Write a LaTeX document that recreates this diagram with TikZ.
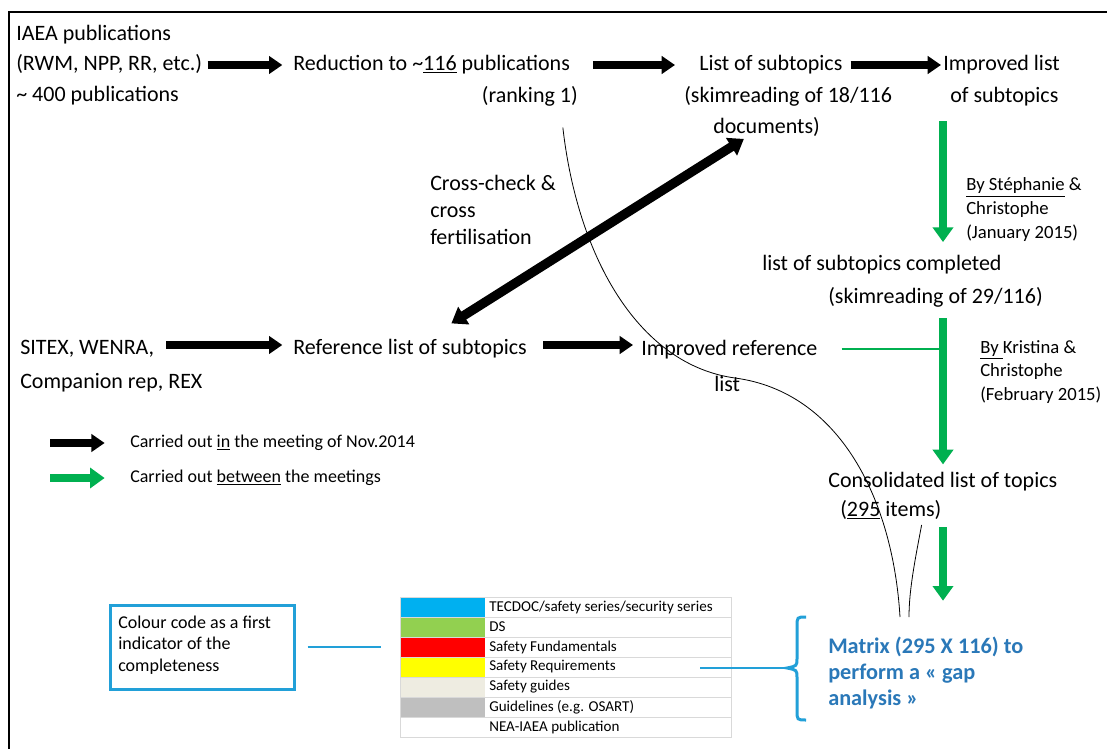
\documentclass[tikz,border=0pt]{standalone}
\usepackage{fontspec}
\setmainfont{Carlito}
\definecolor{mGreen}{HTML}{00B050}
\definecolor{mCyan}{HTML}{22A0D8}
\definecolor{mDarkBlue}{HTML}{2A78B8}
\definecolor{tabBlue}{HTML}{00B0F0}
\definecolor{tabGreen}{HTML}{92D050}
\definecolor{tabRed}{HTML}{FF0000}
\definecolor{tabYellow}{HTML}{FFFF00}
\definecolor{tabLight}{HTML}{EEECE1}
\definecolor{tabGray}{HTML}{BFBFBF}
\definecolor{tabLine}{HTML}{D9D9D9}
\usetikzlibrary{arrows.meta,calc}

\begin{document}
\begin{tikzpicture}[x=0.75pt,y=-0.75pt,
    txt/.style={anchor=west,inner sep=0pt,text height=11pt,text depth=3pt,font=\fontsize{16.5}{20}\selectfont},
    small/.style={anchor=west,inner sep=0pt,align=left,font=\fontsize{14}{17.5}\selectfont},
    blk/.style={line width=6pt,-{Triangle[length=10pt,width=13pt]}},
    dbl/.style={line width=7pt,{Triangle[length=11pt,width=15pt]}-{Triangle[length=11pt,width=15pt]}},
    grn/.style={draw=mGreen,line width=5.5pt,-{Triangle[length=11pt,width=15pt]}},
    link/.style={draw=mCyan,line width=1pt},
    tabtxt/.style={anchor=west,inner sep=0pt,font=\fontsize{11.3}{13}\selectfont}]
  \useasboundingbox (0,0) rectangle (1107,749);
  \draw[line width=1.5pt] (9,749) -- (9,12) -- (1107,12);

  % top row
  \node[txt] (iaea) at (16,35) {IAEA publications};
  \node[txt] (rwm) at (16,65) {(RWM, NPP, RR, etc.)};
  \node[txt] (iaeaNum) at (16,96) {\textasciitilde{} 400 publications};
  \node[txt] (reduc) at (293,65) {Reduction to \textasciitilde\underline{116} publications};
  \node[txt,anchor=east] (rank) at (578,97) {(ranking 1)};
  \node[txt] (subt) at (699,65) {List of subtopics};
  \node[txt] (skim) at (684,97) {(skimreading of 18/116};
  \node[txt] (docs) at (713,128) {documents)};
  \node[txt] (impr) at (943,65) {Improved list};
  \node[txt] (imprSub) at (950,97) {of subtopics};

  \draw[blk,shorten <=4pt,shorten >=8pt] (rwm.east) -- (reduc.west);
  \draw[blk,shorten <=17pt,shorten >=18pt] (reduc.east) -- (subt.west);
  \draw[blk,shorten <=6pt,shorten >=1.5pt] (subt.east) -- (impr.west);

  % green column
  \coordinate (spine) at (943,0);
  \node[small,font=\fontsize{14}{18}\selectfont] (steph) at (966,210) {\underline{By Stéphanie} \&\\Christophe\\(January 2015)};
  \node[txt] (compl) at (762,265) {list of subtopics completed};
  \node[txt] (skimB) at (828,298) {(skimreading of 29/116)};
  \node[small] (krist) at (980,372) {\underline{By }Kristina \&\\Christophe\\(February 2015)};
  \node[txt] (consol) at (828,482) {Consolidated list of topics};
  \node[txt] (items) at (840,511) {(\underline{295} items)};

  \draw[grn,shorten <=11pt,shorten >=10pt] (imprSub.south -| spine) -- (compl.north -| spine);
  \draw[grn,shorten <=8pt,shorten >=6pt] (skimB.south -| spine) -- (consol.north -| spine);

  % middle row
  \node[txt] (sitex) at (20,349) {SITEX, WENRA,};
  \node[txt] (compan) at (20,383) {Companion rep, REX};
  \node[txt] (reflist) at (293,349) {Reference list of subtopics};
  \node[txt] (imprRef) at (641,350) {Improved reference};
  \node[txt] (imprRefB) at (714,386) {list};
  \node[txt,align=left,font=\fontsize{16.5}{20.25}\selectfont,text height=,text depth=] (cross) at (430,210) {Cross-check \&\\cross\\fertilisation};

  \draw[blk,shorten <=9pt,shorten >=8pt] ([yshift=3pt]sitex.east) -- ([yshift=3pt]sitex.east -| reflist.west);
  \draw[blk,shorten <=12pt,shorten >=6pt] ([yshift=3pt]reflist.east) -- ([yshift=3pt]reflist.east -| imprRef.west);
  \draw[dbl] ([xshift=31pt,yshift=12pt]reflist.north) -- ([xshift=-17pt,yshift=-1pt]docs.south);
  \draw[mGreen,line width=1.5pt,shorten <=18pt] ([yshift=1pt]imprRef.east) -- ([yshift=1pt]imprRef.east -| spine);

  % legend
  \node[small,font=\fontsize{13.5}{16}\selectfont] (legBlk) at (130,443) {Carried out \underline{in} the meeting of Nov.2014};
  \node[small,font=\fontsize{13.5}{16}\selectfont] (legGrn) at (130,478) {Carried out \underline{between} the meetings};
  \coordinate (legA) at (50,443);
  \coordinate (legB) at (50,478);
  \draw[blk] (legA) -- ([xshift=-19pt]legBlk.west);
  \draw[grn] (legB) -- ([xshift=-19pt]legGrn.west);

  % colour code
  \node[draw=mCyan,line width=2.25pt,inner sep=0pt,minimum width=138pt,minimum height=63pt] (cbox) at (202,647) {};
  \node[small,align=left,font=\fontsize{13.5}{16}\selectfont] (cboxTxt) at (118,645) {Colour code as a first\\indicator of the\\completeness};
  \foreach \col/\lab [count=\i from 0] in {tabBlue/{TECDOC/safety series/security series},tabGreen/DS,tabRed/Safety Fundamentals,tabYellow/Safety Requirements,tabLight/Safety guides,tabGray/Guidelines (e.g. OSART),white/NEA-IAEA publication}{
    \fill[\col] (400,597+20*\i) rectangle (485,617+20*\i);
    \draw[tabLine,line width=0.75pt] (400,597+20*\i) rectangle (731,617+20*\i);
    \node[tabtxt] (row\i) at (489,607+20*\i) {\lab};
  }
  \coordinate (tabW) at (400,652);
  \draw[link,shorten <=9pt,shorten >=14pt] (cbox.east) -- (cbox.east -| tabW);

  % matrix
  \coordinate (braceTip) at (787,668);
  \draw[mCyan,line width=2.25pt] (806,617) .. controls (797,617) .. (797,627) -- (797,658)
    .. controls (797,666) .. (braceTip) .. controls (797,670) .. (797,678) -- (797,710)
    .. controls (797,720) .. (806,720);
  \draw[link] ($(braceTip)+(-87,0)$) -- (braceTip);
  \node[anchor=west,inner sep=0pt,align=left,text=mDarkBlue,font=\fontsize{16.7}{19.5}\selectfont\bfseries] (matrix) at (828,673) {Matrix (295 X 116) to\\perform a « gap\\analysis »};
  \draw[grn,shorten <=5pt,shorten >=27pt] (items.south -| spine) -- (matrix.north -| spine);

  % curves
  \draw[line width=0.6pt] ($(rank.south)+(33,21)$) .. controls (578,260) and (640,365) .. (735,378)
    .. controls (840,392) and (893,500) .. (900,617);
  \draw[line width=0.6pt] ($(items.east)+(-20,14)$) .. controls (915,560) and (909,590) .. (909,617);
\end{tikzpicture}
\end{document}
